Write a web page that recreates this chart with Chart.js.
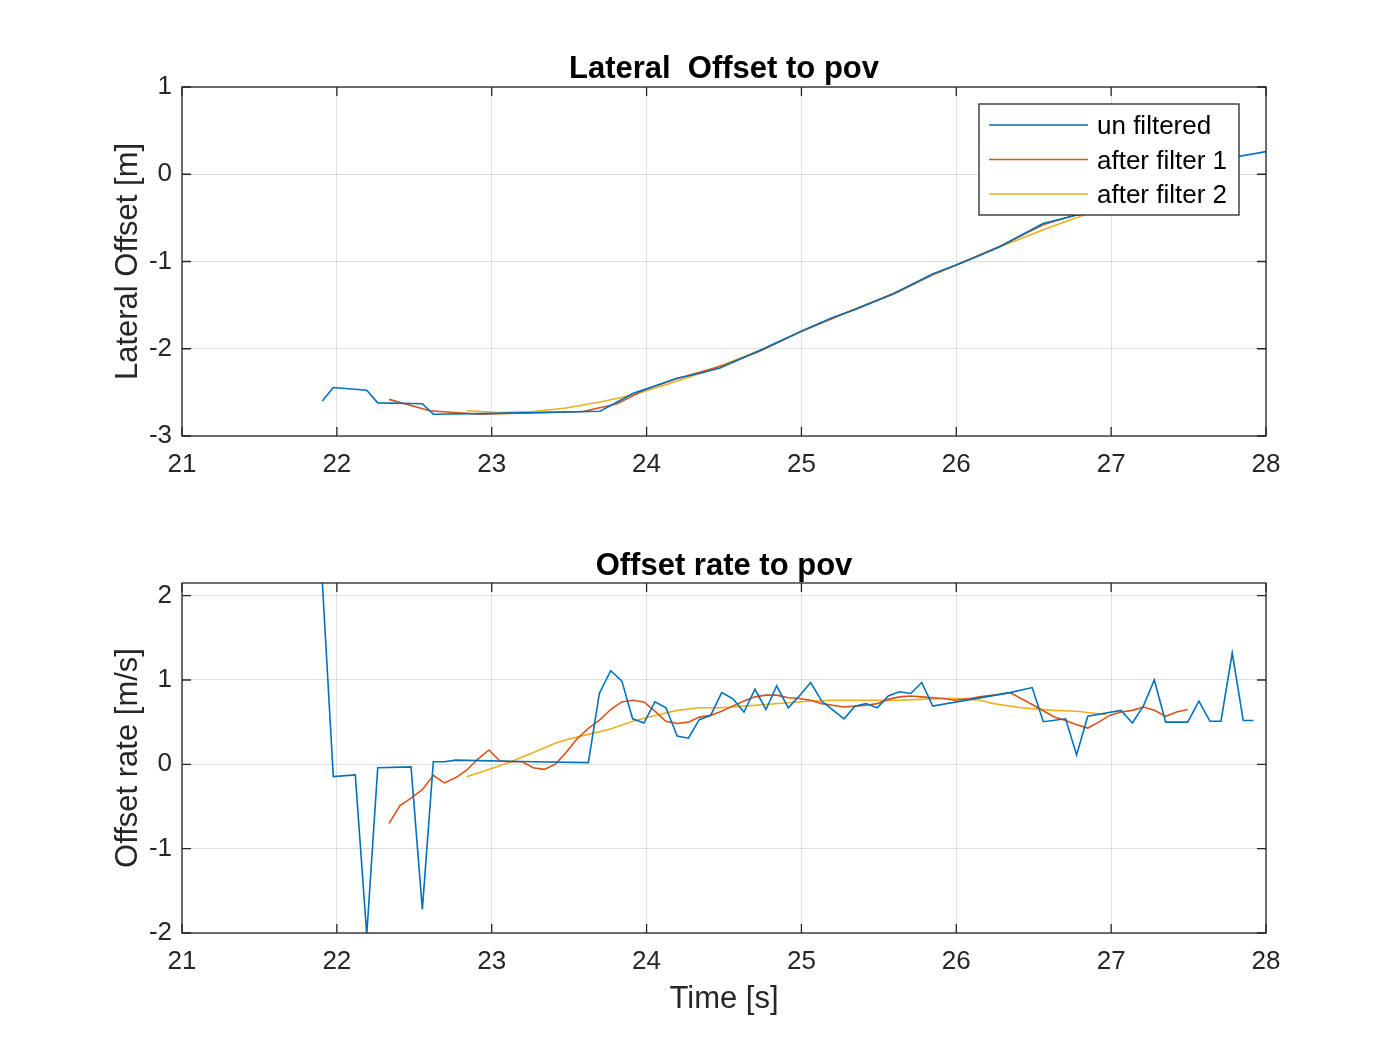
<!DOCTYPE html>
<html><head><meta charset="utf-8">
<script src="https://cdn.jsdelivr.net/npm/chart.js@4/dist/chart.umd.min.js"></script>
<style>
html,body{margin:0;padding:0;background:#fff;}
#c1{position:absolute;left:0;top:0;}
#c2{position:absolute;left:0;top:500px;}
</style></head><body>
<canvas id="c1" width="1400" height="500"></canvas>
<canvas id="c2" width="1400" height="550"></canvas>
<script>
// ---------- data ----------
const xTicks = [21, 22, 23, 24, 25, 26, 27, 28];
const offsetTicks = [-3, -2, -1, 0, 1];
const rateTicks = [-2, -1, 0, 1, 2];
const seriesLabels = ['un filtered', 'after filter 1', 'after filter 2'];
const titleTop = 'Lateral  Offset to pov';
const titleBottom = 'Offset rate to pov';
const yLabelTop = 'Lateral Offset [m]';
const yLabelBottom = 'Offset rate [m/s]';
const xLabel = 'Time [s]';

// Lateral offset, unfiltered
const rawOffsetT = [21.906,21.977,22.193,22.264,22.552,22.623,23.2,23.70,23.914,24.0,24.19,24.345,24.474,24.73,25.01,25.206,25.335,25.593,25.85,26.0,26.15,26.28,26.56,26.82,27.0,27.2,27.4,27.6,27.75,28.0];
const rawOffsetV = [-2.598,-2.445,-2.476,-2.62,-2.63,-2.75,-2.735,-2.716,-2.51,-2.46,-2.34,-2.28,-2.22,-2.02,-1.79,-1.64,-1.56,-1.37,-1.14,-1.04,-0.93,-0.83,-0.565,-0.45,-0.33,-0.19,-0.05,0.08,0.18,0.26];
// Lateral offset, filter 1
const f1OffsetT = [22.337,22.60,22.92,23.59,23.81,24.0,24.2,24.5,24.73,25.0,25.3,25.6,25.85,26.0,26.3,26.56,26.8,27.0,27.2,27.5];
const f1OffsetV = [-2.58,-2.71,-2.75,-2.72,-2.63,-2.46,-2.34,-2.19,-2.03,-1.80,-1.58,-1.37,-1.15,-1.04,-0.81,-0.58,-0.45,-0.34,-0.21,-0.02];
// Lateral offset, filter 2
const f2OffsetT = [22.838,23.05,23.27,23.48,23.70,23.91,24.13,24.4,24.73,25.0,25.3,25.6,25.85,26.0,26.3,26.6,26.82,26.97];
const f2OffsetV = [-2.71,-2.73,-2.72,-2.68,-2.61,-2.53,-2.41,-2.25,-2.02,-1.80,-1.58,-1.36,-1.15,-1.04,-0.82,-0.61,-0.47,-0.38];

// Offset rate, unfiltered
const rawRateT = [21.905,21.977,22.119,22.193,22.264,22.479,22.552,22.623,22.694,22.767,23.27,23.624,23.695,23.768,23.84,23.91,23.983,24.054,24.125,24.198,24.27,24.34,24.414,24.485,24.556,24.629,24.70,24.771,24.84,24.915,24.986,25.06,25.131,25.20,25.275,25.346,25.417,25.49,25.561,25.632,25.706,25.777,25.848,26.347,26.49,26.562,26.706,26.777,26.849,27.064,27.137,27.208,27.279,27.352,27.494,27.567,27.638,27.709,27.782,27.853,27.92];
const rawRateV = [2.2,-0.146,-0.126,-2.02,-0.04,-0.03,-1.72,0.03,0.03,0.05,0.03,0.02,0.84,1.11,0.99,0.54,0.49,0.74,0.67,0.335,0.31,0.53,0.58,0.85,0.78,0.62,0.89,0.65,0.93,0.67,0.81,0.97,0.75,0.65,0.54,0.69,0.72,0.67,0.81,0.86,0.84,0.97,0.69,0.85,0.91,0.505,0.54,0.11,0.57,0.64,0.49,0.69,1.0,0.50,0.50,0.75,0.51,0.51,1.32,0.52,0.52];
// Offset rate, filter 1
const f1RateT = [22.337,22.408,22.479,22.552,22.623,22.694,22.767,22.838,22.909,22.982,23.053,23.124,23.197,23.268,23.34,23.41,23.48,23.55,23.626,23.70,23.768,23.84,23.91,23.983,24.054,24.125,24.198,24.27,24.34,24.414,24.485,24.556,24.629,24.70,24.771,24.84,24.915,24.986,25.06,25.131,25.20,25.275,25.346,25.417,25.49,25.561,25.632,25.706,25.777,25.848,25.92,25.99,26.09,26.15,26.24,26.347,26.49,26.63,26.706,26.777,26.849,26.92,26.99,27.064,27.137,27.208,27.279,27.352,27.423,27.494];
const f1RateV = [-0.70,-0.49,-0.40,-0.30,-0.13,-0.22,-0.16,-0.07,0.06,0.17,0.04,0.03,0.03,-0.04,-0.06,0.0,0.14,0.30,0.43,0.53,0.65,0.74,0.76,0.74,0.63,0.51,0.485,0.50,0.56,0.58,0.63,0.69,0.75,0.80,0.82,0.82,0.79,0.78,0.76,0.72,0.70,0.68,0.69,0.70,0.72,0.77,0.80,0.81,0.80,0.79,0.78,0.76,0.78,0.80,0.82,0.85,0.71,0.565,0.52,0.47,0.43,0.50,0.58,0.62,0.64,0.68,0.64,0.57,0.62,0.65];
// Offset rate, filter 2
const f2RateT = [22.838,22.98,23.124,23.27,23.41,23.48,23.624,23.768,23.91,24.054,24.198,24.34,24.485,24.629,24.771,24.915,25.06,25.20,25.346,25.49,25.632,25.777,25.92,26.024,26.15,26.24,26.42,26.63,26.777,26.92,26.97];
const f2RateV = [-0.146,-0.06,0.03,0.14,0.25,0.29,0.355,0.42,0.51,0.58,0.64,0.67,0.67,0.69,0.71,0.73,0.75,0.76,0.76,0.76,0.76,0.77,0.78,0.78,0.76,0.72,0.67,0.64,0.63,0.60,0.59];

// ---------- styling ----------
const COLORS = ['#0072BD', '#D95319', '#EDB120'];
const FONT = 'Liberation Sans, Arial, Helvetica, sans-serif';
const AXIS_COLOR = '#262626';
const GRID_COLOR = 'rgba(38,38,38,0.15)';
const TICK_SIZE = 26, LABEL_SIZE = 31;

const pts = (t, v) => t.map((x, i) => ({ x: x, y: v[i] }));

function makeDatasets(series) {
  return series.map((s, i) => ({
    label: seriesLabels[i],
    data: pts(s[0], s[1]),
    borderColor: COLORS[i],
    backgroundColor: COLORS[i],
    borderWidth: 1.6,
    pointRadius: 0,
    showLine: true,
    fill: false,
    tension: 0
  }));
}

const framePlugin = {
  id: 'frame',
  afterDatasetsDraw(chart) {
    const { ctx, chartArea: a } = chart;
    const xs = chart.scales.x, ys = chart.scales.y;
    const L = 9;
    ctx.save();
    ctx.strokeStyle = AXIS_COLOR;
    ctx.lineWidth = 1.3;
    ctx.beginPath();
    xs.ticks.forEach(t => {
      const p = xs.getPixelForValue(t.value);
      ctx.moveTo(p, a.bottom); ctx.lineTo(p, a.bottom - L);
      ctx.moveTo(p, a.top); ctx.lineTo(p, a.top + L);
    });
    ys.ticks.forEach(t => {
      const p = ys.getPixelForValue(t.value);
      ctx.moveTo(a.left, p); ctx.lineTo(a.left + L, p);
      ctx.moveTo(a.right, p); ctx.lineTo(a.right - L, p);
    });
    ctx.stroke();
    ctx.strokeRect(a.left, a.top, a.right - a.left, a.bottom - a.top);
    ctx.restore();
  }
};

const axTitlePlugin = {
  id: 'axTitle',
  afterDraw(chart, args, opts) {
    const { ctx, chartArea: a } = chart;
    ctx.save();
    ctx.fillStyle = '#000';
    ctx.font = 'bold ' + LABEL_SIZE + 'px ' + FONT;
    ctx.textAlign = 'center';
    ctx.textBaseline = 'middle';
    ctx.fillText(opts.text, (a.left + a.right) / 2, a.top - opts.gap);
    ctx.restore();
  }
};

const legendPlugin = {
  id: 'boxLegend',
  afterDraw(chart) {
    const { ctx, chartArea: a } = chart;
    const bx = a.right - 287, by = a.top + 17, bw = 260, bh = 111;
    ctx.save();
    ctx.fillStyle = '#fff';
    ctx.fillRect(bx, by, bw, bh);
    ctx.strokeStyle = AXIS_COLOR;
    ctx.lineWidth = 1.3;
    ctx.strokeRect(bx, by, bw, bh);
    ctx.font = TICK_SIZE + 'px ' + FONT;
    ctx.textBaseline = 'middle';
    ctx.textAlign = 'left';
    chart.data.datasets.forEach((ds, i) => {
      const y = by + 21 + i * 34.5;
      ctx.strokeStyle = ds.borderColor;
      ctx.lineWidth = 1.6;
      ctx.beginPath();
      ctx.moveTo(bx + 10, y); ctx.lineTo(bx + 109, y);
      ctx.stroke();
      ctx.fillStyle = '#000';
      ctx.fillText(ds.label, bx + 118, y + 2);
    });
    ctx.restore();
  }
};

function makeOptions(cfg) {
  return {
    responsive: false,
    animation: false,
    events: [],
    layout: { padding: { left: 100, right: 134, top: cfg.top, bottom: 0 } },
    plugins: {
      legend: { display: false },
      tooltip: { enabled: false },
      title: { display: false },
      axTitle: { text: cfg.title, gap: cfg.titleGap }
    },
    scales: {
      x: {
        type: 'linear',
        min: xTicks[0], max: xTicks[xTicks.length - 1],
        afterBuildTicks: s => { s.ticks = xTicks.map(v => ({ value: v })); },
        afterFit: s => { s.height = cfg.xHeight; },
        ticks: { color: AXIS_COLOR, font: { family: FONT, size: TICK_SIZE }, padding: 13, maxRotation: 0, autoSkip: false, callback: v => String(v) },
        grid: { color: GRID_COLOR, lineWidth: 1, drawTicks: false },
        border: { display: false },
        title: cfg.xTitle ? { display: true, text: cfg.xTitle, color: AXIS_COLOR, font: { family: FONT, size: LABEL_SIZE }, padding: { top: 0, bottom: 32.4 } } : { display: false }
      },
      y: {
        type: 'linear',
        min: cfg.yMin, max: cfg.yMax,
        afterBuildTicks: s => { s.ticks = cfg.yTicks.map(v => ({ value: v })); },
        afterFit: s => { s.width = 82; },
        ticks: { color: AXIS_COLOR, font: { family: FONT, size: TICK_SIZE }, padding: 10, autoSkip: false, callback: v => String(v) },
        grid: { color: GRID_COLOR, lineWidth: 1, drawTicks: false },
        border: { display: false },
        title: { display: true, text: cfg.yTitle, color: AXIS_COLOR, font: { family: FONT, size: LABEL_SIZE }, padding: { top: 9.4, bottom: 0 } }
      }
    }
  };
}

new Chart(document.getElementById('c1'), {
  type: 'scatter',
  data: { datasets: makeDatasets([[rawOffsetT, rawOffsetV], [f1OffsetT, f1OffsetV], [f2OffsetT, f2OffsetV]]) },
  options: makeOptions({ title: titleTop, top: 87, titleGap: 18, xHeight: 64, yMin: -3, yMax: 1, yTicks: offsetTicks, yTitle: yLabelTop }),
  plugins: [framePlugin, legendPlugin, axTitlePlugin]
});

new Chart(document.getElementById('c2'), {
  type: 'scatter',
  data: { datasets: makeDatasets([[rawRateT, rawRateV], [f1RateT, f1RateV], [f2RateT, f2RateV]]) },
  options: makeOptions({ title: titleBottom, top: 83, titleGap: 17, xHeight: 117, xTitle: xLabel, yMin: -2, yMax: 2.15, yTicks: rateTicks, yTitle: yLabelBottom }),
  plugins: [framePlugin, axTitlePlugin]
});
</script>
</body></html>
